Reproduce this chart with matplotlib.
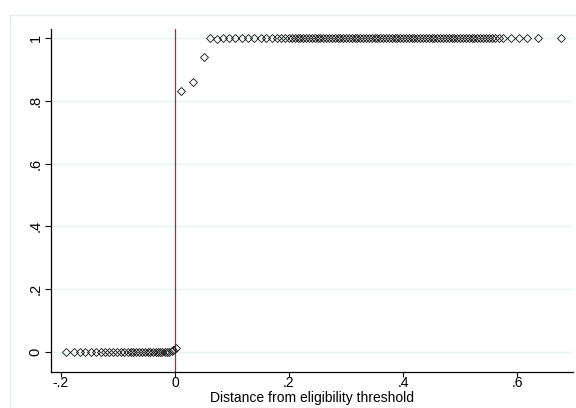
#!/usr/bin/env python3
"""Share treated vs distance from eligibility threshold (RD scatter)."""

import matplotlib

matplotlib.use("Agg")
import matplotlib.pyplot as plt
from matplotlib.lines import Line2D

plt.rcParams["font.family"] = ["Liberation Sans", "DejaVu Sans"]

# bins below the threshold
left_x = [
    -0.191, -0.177, -0.167, -0.157, -0.148, -0.139, -0.130, -0.122, -0.115,
    -0.108, -0.101, -0.095, -0.089, -0.083, -0.078, -0.073, -0.068, -0.063,
    -0.058, -0.053, -0.048, -0.043, -0.038, -0.034, -0.030, -0.026, -0.022,
    -0.018, -0.014, -0.010, -0.006, -0.003, 0.002,
]
left_y = [0.0] * 30 + [0.003, 0.006, 0.013]

# bins above the threshold
right_x = [
    0.010, 0.031, 0.050, 0.061, 0.074, 0.084, 0.095, 0.106, 0.117, 0.128,
    0.139, 0.150, 0.160, 0.170, 0.178, 0.186, 0.193, 0.200, 0.205, 0.210,
    0.215, 0.220, 0.225, 0.230, 0.235, 0.240, 0.245, 0.250, 0.255, 0.260,
    0.265, 0.270, 0.275, 0.280, 0.285, 0.290, 0.295, 0.300, 0.305, 0.310,
    0.315, 0.320, 0.325, 0.330, 0.335, 0.340, 0.345, 0.350, 0.355, 0.360,
    0.365, 0.370, 0.375, 0.380, 0.385, 0.390, 0.395, 0.400, 0.405, 0.410,
    0.415, 0.420, 0.425, 0.430, 0.435, 0.440, 0.445, 0.450, 0.455, 0.460,
    0.465, 0.470, 0.475, 0.480, 0.485, 0.490, 0.495, 0.500, 0.505, 0.510,
    0.515, 0.520, 0.525, 0.530, 0.535, 0.540, 0.545, 0.550, 0.556, 0.562,
    0.568, 0.576, 0.589, 0.603, 0.617, 0.636, 0.677,
]
right_y = [0.83, 0.86, 0.94, 1.0, 0.996] + [1.0] * (len(right_x) - 5)

x_ticks = [-0.2, 0.0, 0.2, 0.4, 0.6]
x_tick_labels = ["-.2", "0", ".2", ".4", ".6"]
y_ticks = [0.0, 0.2, 0.4, 0.6, 0.8, 1.0]
y_tick_labels = ["0", ".2", ".4", ".6", ".8", "1"]

fig = plt.figure(figsize=(5.76, 4.08), dpi=100)

# faint outer frame like the Stata graph region
frame_color = "#e6ecef"
fig.add_artist(Line2D([10 / 576, 1.0], [1 - 15 / 408, 1 - 15 / 408],
                      transform=fig.transFigure, color=frame_color, lw=1.0))
fig.add_artist(Line2D([10 / 576, 10 / 576], [0.0, 1 - 15 / 408],
                      transform=fig.transFigure, color=frame_color, lw=1.0))

ax = fig.add_axes([51 / 576, 36 / 408, 522 / 576, 343 / 408])

for y in y_ticks:
    ax.axhline(y, color="#eaf2f3", lw=1.0, zorder=0)

ax.axvline(0.0, color="#a52a4a", lw=0.9, zorder=1)

marker_style = dict(
    linestyle="none",
    marker="D",
    markersize=3.7,
    markerfacecolor="none",
    markeredgecolor="#111111",
    markeredgewidth=0.6,
    zorder=3,
)
ax.plot(left_x, left_y, **marker_style)
ax.plot(right_x, right_y, **marker_style)

ax.set_xlim(-0.2175, 0.698)
ax.set_ylim(-0.0637, 1.0287)
ax.set_xticks(x_ticks)
ax.set_xticklabels(x_tick_labels, fontsize=10)
ax.set_yticks(y_ticks)
ax.set_yticklabels(y_tick_labels, fontsize=10.5, rotation=90, va="center")
ax.tick_params(length=4, width=0.8, color="#111111", pad=2)
ax.tick_params(axis="x", length=3.5, pad=-0.5)
ax.set_xlabel("Distance from eligibility threshold", fontsize=10, labelpad=0.5)

ax.spines["top"].set_visible(False)
ax.spines["right"].set_visible(False)
ax.spines["left"].set_linewidth(0.9)
ax.spines["bottom"].set_linewidth(0.9)

fig.savefig("out.png", dpi=100)
